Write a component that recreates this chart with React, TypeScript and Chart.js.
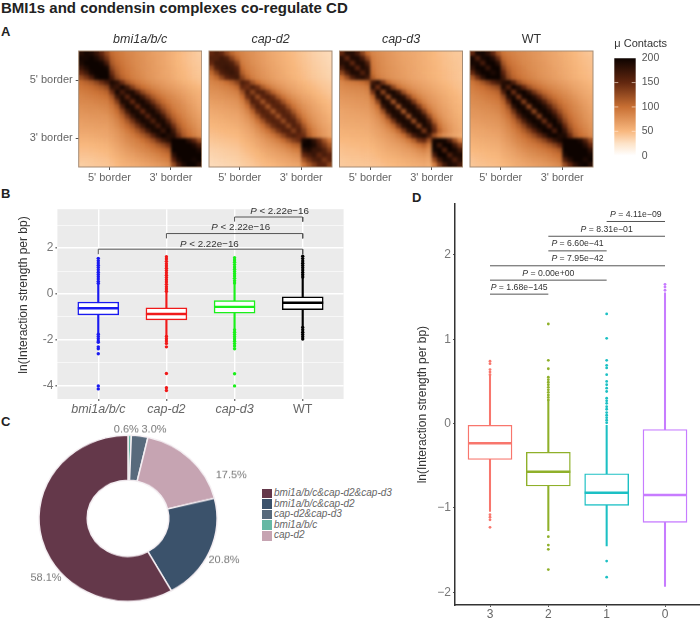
import React, { useEffect, useRef } from 'react';
import { Chart, registerables } from 'chart.js';

Chart.register(...registerables);
Chart.defaults.font.family = '"Liberation Sans", Arial, sans-serif';
Chart.defaults.animation = false as any;

const FONT = '"Liberation Sans", Arial, sans-serif';

// Panel A: upper triangles of the contact maps (row i, column i..23)
const heatTitles = ['bmi1a/b/c', 'cap-d2', 'cap-d3', 'WT'];
const heatBmi = [
  [185, 195, 190, 175, 150, 125, 102, 95, 90, 85, 82, 78, 75, 72, 68, 65, 62, 58, 54, 50, 47, 44, 41, 38],
  [195, 200, 190, 170, 140, 108, 98, 92, 87, 83, 79, 76, 72, 69, 66, 62, 58, 54, 50, 47, 44, 41, 39],
  [200, 205, 195, 165, 115, 102, 95, 89, 84, 80, 77, 73, 70, 66, 63, 59, 55, 51, 48, 45, 42, 40],
  [205, 205, 195, 128, 108, 98, 91, 86, 81, 77, 74, 70, 67, 64, 60, 56, 52, 49, 46, 43, 41],
  [205, 205, 145, 116, 102, 94, 88, 83, 78, 74, 71, 68, 64, 61, 57, 53, 50, 47, 44, 42],
  [205, 165, 128, 108, 98, 90, 85, 80, 75, 72, 68, 65, 62, 58, 54, 51, 48, 45, 43],
  [190, 180, 145, 118, 104, 94, 88, 82, 77, 73, 70, 66, 63, 59, 55, 52, 49, 46],
  [175, 195, 170, 135, 112, 100, 92, 85, 80, 75, 71, 68, 64, 60, 56, 53, 50],
  [165, 190, 190, 158, 128, 110, 98, 90, 83, 78, 74, 70, 65, 61, 57, 54],
  [155, 190, 195, 170, 138, 116, 102, 92, 85, 80, 75, 70, 65, 60, 56],
  [150, 190, 195, 175, 142, 118, 103, 92, 85, 80, 74, 68, 63, 58],
  [150, 190, 195, 175, 142, 118, 102, 90, 84, 78, 72, 66, 60],
  [150, 190, 195, 172, 138, 114, 98, 88, 82, 75, 69, 63],
  [155, 190, 195, 168, 130, 108, 95, 86, 79, 72, 66],
  [160, 192, 192, 158, 122, 103, 92, 83, 76, 69],
  [165, 195, 185, 145, 114, 98, 88, 80, 72],
  [175, 198, 170, 128, 106, 94, 85, 76],
  [188, 185, 145, 115, 100, 90, 80],
  [205, 205, 200, 180, 155, 125],
  [205, 210, 205, 190, 165],
  [205, 210, 205, 190],
  [200, 205, 200],
  [195, 205],
  [185],
];
const heatD2 = [
  [150, 160, 150, 125, 105, 92, 85, 80, 76, 72, 68, 64, 60, 57, 54, 51, 48, 45, 42, 39, 36, 34, 32, 30],
  [160, 170, 160, 130, 105, 88, 82, 77, 73, 69, 65, 61, 58, 55, 52, 49, 46, 43, 40, 37, 35, 33, 31],
  [170, 170, 160, 130, 92, 85, 79, 75, 70, 66, 63, 59, 56, 53, 50, 47, 44, 41, 38, 36, 34, 32],
  [175, 170, 155, 100, 88, 82, 77, 72, 68, 64, 61, 57, 54, 51, 48, 45, 42, 39, 37, 35, 33],
  [175, 165, 112, 94, 85, 79, 74, 70, 66, 62, 59, 55, 52, 49, 46, 43, 40, 38, 36, 34],
  [170, 130, 105, 90, 82, 76, 72, 67, 63, 60, 57, 53, 50, 47, 44, 41, 39, 37, 35],
  [160, 150, 120, 100, 88, 80, 74, 69, 65, 61, 58, 54, 51, 48, 45, 42, 40, 38],
  [145, 162, 145, 115, 97, 85, 77, 71, 66, 62, 58, 55, 51, 48, 45, 42, 40],
  [130, 160, 160, 135, 108, 92, 81, 74, 68, 63, 59, 55, 51, 48, 45, 42],
  [125, 155, 162, 145, 116, 97, 84, 76, 70, 64, 60, 55, 51, 48, 45],
  [120, 152, 160, 148, 120, 99, 86, 77, 70, 65, 60, 55, 51, 48],
  [118, 152, 160, 148, 120, 98, 85, 76, 70, 64, 59, 54, 50],
  [118, 152, 160, 146, 117, 95, 82, 74, 67, 62, 57, 52],
  [120, 155, 160, 140, 110, 90, 79, 71, 65, 60, 55],
  [125, 158, 158, 130, 102, 85, 75, 68, 62, 57],
  [130, 160, 150, 118, 94, 81, 72, 65, 60],
  [135, 160, 135, 105, 88, 77, 69, 62],
  [150, 145, 112, 92, 80, 71, 64],
  [195, 200, 180, 150, 120, 95],
  [205, 190, 165, 140, 115],
  [175, 175, 160, 135],
  [150, 165, 155],
  [140, 155],
  [130],
];
const heatD3 = [
  [150, 185, 185, 165, 130, 100, 84, 80, 76, 73, 70, 67, 64, 62, 60, 58, 55, 53, 50, 47, 45, 43, 41, 40],
  [150, 190, 190, 165, 125, 90, 82, 78, 74, 71, 68, 65, 63, 61, 58, 56, 53, 50, 48, 46, 44, 42, 41],
  [150, 190, 190, 160, 92, 84, 79, 75, 72, 69, 66, 64, 61, 59, 56, 54, 51, 49, 46, 45, 43, 41],
  [155, 190, 180, 95, 85, 80, 76, 73, 70, 67, 64, 62, 59, 57, 54, 52, 49, 47, 45, 43, 42],
  [160, 185, 100, 87, 81, 77, 74, 71, 68, 65, 62, 60, 57, 55, 52, 50, 48, 46, 44, 42],
  [170, 110, 92, 84, 79, 75, 72, 69, 66, 63, 60, 58, 55, 53, 50, 48, 46, 44, 42],
  [170, 185, 140, 105, 90, 82, 76, 72, 68, 65, 62, 59, 56, 53, 50, 48, 46, 44],
  [145, 195, 180, 130, 100, 88, 80, 74, 70, 66, 63, 59, 56, 53, 50, 47, 45],
  [130, 190, 195, 170, 122, 96, 85, 77, 71, 67, 63, 59, 56, 53, 50, 47],
  [125, 188, 195, 180, 135, 103, 88, 78, 72, 67, 63, 59, 55, 52, 49],
  [120, 185, 195, 185, 140, 105, 88, 77, 71, 66, 61, 57, 53, 50],
  [118, 185, 195, 185, 140, 105, 86, 76, 69, 64, 59, 55, 52],
  [118, 185, 195, 183, 137, 100, 83, 73, 67, 62, 57, 53],
  [120, 188, 195, 178, 128, 94, 79, 70, 64, 59, 55],
  [125, 190, 195, 165, 112, 88, 75, 67, 61, 57],
  [130, 192, 185, 140, 98, 81, 71, 64, 58],
  [140, 190, 150, 108, 86, 74, 66, 60],
  [165, 120, 92, 78, 70, 63, 57],
  [195, 205, 195, 165, 125, 90],
  [170, 205, 200, 170, 135],
  [160, 200, 195, 170],
  [160, 190, 190],
  [160, 185],
  [165],
];
const heatWt = [
  [150, 195, 195, 180, 150, 115, 96, 90, 86, 82, 80, 77, 74, 72, 68, 65, 62, 59, 56, 53, 50, 47, 44, 42],
  [160, 195, 200, 185, 145, 105, 95, 89, 85, 81, 78, 75, 72, 69, 66, 63, 60, 57, 54, 51, 48, 46, 44],
  [165, 200, 200, 180, 118, 100, 93, 88, 83, 80, 77, 74, 71, 67, 64, 61, 58, 55, 52, 49, 47, 45],
  [175, 205, 200, 135, 108, 97, 91, 86, 81, 78, 75, 72, 69, 65, 62, 59, 56, 53, 50, 48, 46],
  [190, 205, 155, 118, 102, 94, 89, 84, 80, 76, 73, 70, 67, 63, 60, 57, 54, 51, 49, 47],
  [205, 170, 128, 108, 99, 92, 87, 83, 78, 75, 72, 68, 65, 61, 58, 55, 52, 50, 48],
  [185, 190, 160, 125, 108, 98, 92, 86, 81, 77, 74, 70, 67, 63, 60, 57, 54, 51],
  [160, 200, 185, 150, 122, 106, 97, 90, 84, 80, 76, 72, 68, 64, 60, 57, 54],
  [145, 195, 200, 178, 142, 118, 104, 95, 88, 83, 78, 73, 68, 64, 60, 57],
  [140, 195, 200, 185, 155, 126, 109, 98, 90, 84, 79, 73, 68, 63, 60],
  [135, 192, 200, 188, 160, 130, 112, 99, 90, 84, 78, 72, 67, 62],
  [130, 192, 200, 188, 160, 130, 110, 97, 89, 82, 76, 70, 65],
  [130, 192, 200, 186, 155, 125, 105, 93, 85, 79, 73, 67],
  [135, 195, 200, 182, 145, 115, 99, 89, 82, 75, 70],
  [145, 195, 200, 170, 130, 106, 93, 85, 78, 72],
  [155, 198, 195, 150, 116, 99, 89, 82, 75],
  [165, 200, 175, 130, 106, 95, 86, 78],
  [190, 190, 150, 115, 100, 92, 82],
  [210, 210, 205, 190, 160, 125],
  [210, 210, 205, 185, 150],
  [210, 210, 200, 180],
  [200, 205, 195],
  [190, 205],
  [185],
];
const heatSize = 24;
const heatTickValues = [6, 18];
const heatTickLabels = ["5' border", "3' border"];
const colorbarTicks = [0, 50, 100, 150, 200];
const colorStops: [number, number[]][] = [
  [0, [255, 255, 255]],
  [25, [253, 227, 200]],
  [50, [248, 184, 127]],
  [100, [200, 111, 51]],
  [150, [98, 39, 15]],
  [200, [13, 3, 0]],
];

// Panel B
const catsB = ['bmi1a/b/c', 'cap-d2', 'cap-d3', 'WT'];
const colorsB = ['#1a1af0', '#f01a1a', '#1af01a', '#000000'];
const q1B = [-0.91, -1.13, -0.84, -0.68];
const medB = [-0.62, -0.87, -0.56, -0.38];
const q3B = [-0.35, -0.6, -0.29, -0.12];
const whiskLowB = [-1.73, -1.83, -1.54, -1.44];
const whiskHighB = [0.43, 0.07, 0.43, 0.68];
const outliersB = [
  [1.55, 1.45, 1.35, 1.25, 1.15, 1.05, 0.95, 0.85, 0.75, 0.65, 0.55, 0.47, -1.75, -1.85, -1.95, -2.05, -2.1, -2.3, -2.38, -2.6, -4.0, -4.13],
  [1.62, 1.52, 1.42, 1.32, 1.22, 1.12, 1.02, 0.92, 0.82, 0.72, 0.62, 0.52, 0.42, 0.32, 0.22, 0.12, -1.85, -1.95, -2.05, -2.15, -2.3, -3.46, -4.08, -4.2],
  [1.58, 1.48, 1.38, 1.28, 1.18, 1.08, 0.98, 0.88, 0.78, 0.68, 0.58, 0.48, -1.56, -1.66, -1.76, -1.86, -1.96, -2.06, -2.16, -2.26, -2.38, -3.47, -4.0],
  [1.64, 1.54, 1.44, 1.34, 1.24, 1.14, 1.04, 0.94, 0.84, 0.74, -1.46, -1.56, -1.66, -1.76, -1.86, -1.96],
];
const bracketsB = [
  { from: 1, to: 4, top: 1.95, tip: 1.73 },
  { from: 2, to: 4, top: 2.63, tip: 2.42 },
  { from: 3, to: 4, top: 3.35, tip: 3.15 },
];
const pLabelsB = [
  { x: 2.63, y: 2.18, rest: ' < 2.22e\u221216' },
  { x: 3.09, y: 2.89, rest: ' < 2.22e\u221216' },
  { x: 3.66, y: 3.58, rest: ' < 2.22e\u221216' },
];

// Panel C, clockwise from 12 o'clock
const donutLabels = ['bmi1a/b/c', 'cap-d2&cap-d3', 'cap-d2', 'bmi1a/b/c&cap-d2', 'bmi1a/b/c&cap-d2&cap-d3'];
const donutValues = [0.6, 3.0, 17.5, 20.8, 58.1];
const donutColors = ['#66b8a4', '#586a7c', '#c6a4b2', '#3b526b', '#64384a'];
const donutText = ['0.6%', '3.0%', '17.5%', '20.8%', '58.1%'];
const donutTextAt = [[-1.7, -94.6], [26, -94.6], [103.3, -46.4], [96, 44.7], [-82, 63.7]];
const legendOrder = [4, 3, 1, 0, 2];

// Panel D
const catsD = ['3', '2', '1', '0'];
const colorsD = ['#F8766D', '#8fb02a', '#1cc0c4', '#C77CFF'];
const q1D = [-0.425, -0.74, -0.97, -1.17];
const medD = [-0.232, -0.57, -0.82, -0.846];
const q3D = [-0.02, -0.34, -0.595, -0.07];
const whiskLowD = [-1.04, -1.27, -1.45, -1.93];
const whiskHighD = [0.58, 0.27, -0.02, 1.55];
const outliersD = [
  [0.74, 0.71, 0.64, 0.61, 0.58, -1.08, -1.11, -1.14, -1.23],
  [1.18, 0.75, 0.65, 0.55, 0.52, 0.49, 0.46, 0.43, 0.4, 0.37, 0.34, 0.31, 0.28, -1.34, -1.44, -1.49, -1.73],
  [1.3, 1.01, 0.75, 0.69, 0.66, 0.58, 0.5, 0.46, 0.42, 0.38, 0.3, 0.27, 0.24, 0.2, 0.17, 0.13, 0.1, 0.07, 0.04, 0.01, -1.63, -1.82],
  [1.65, 1.62, 1.58],
];
const linesD = [
  { from: 1, to: 2, y: 1.534 },
  { from: 1, to: 3, y: 1.7 },
  { from: 1, to: 4, y: 1.87 },
  { from: 2, to: 3, y: 2.047 },
  { from: 2, to: 4, y: 2.22 },
  { from: 3, to: 4, y: 2.395 },
];
const pLabelsD = [
  { x: 1.5, y: 1.61, rest: ' = 1.68e\u2212145' },
  { x: 2, y: 1.78, rest: ' = 0.00e+00' },
  { x: 2.5, y: 1.957, rest: ' = 7.95e\u221242' },
  { x: 2.5, y: 2.13, rest: ' = 6.60e\u221241' },
  { x: 3, y: 2.3, rest: ' = 8.31e\u221201' },
  { x: 3.5, y: 2.474, rest: ' = 4.11e\u221209' },
];

const heatColor = (v: number) => {
  const c = Math.min(200, Math.max(0, v));
  for (let i = 1; i < colorStops.length; i++) {
    const [b, cb] = colorStops[i];
    const [a, ca] = colorStops[i - 1];
    if (c <= b) {
      const t = (c - a) / (b - a);
      return `rgb(${ca.map((p, k) => Math.round(p + (cb[k] - p) * t)).join(',')})`;
    }
  }
  return 'rgb(13,3,0)';
};

// mirror an upper triangle into x/y/v cells
const toCells = (tri: number[][]) => {
  const cells: { x: number; y: number; v: number }[] = [];
  tri.forEach((row, i) =>
    row.forEach((v, k) => {
      cells.push({ x: i + k, y: i, v });
      if (k > 0) cells.push({ x: i, y: i + k, v });
    })
  );
  return cells;
};

const heatPlugin = {
  id: 'heatCells',
  beforeDatasetsDraw(chart: any) {
    const { ctx, chartArea, scales } = chart;
    const off = document.createElement('canvas');
    off.width = chart.width;
    off.height = chart.height;
    const o = off.getContext('2d')!;
    chart.data.datasets[0].data.forEach((c: any) => {
      const x0 = scales.x.getPixelForValue(c.x);
      const x1 = scales.x.getPixelForValue(c.x + 1);
      const y0 = scales.y.getPixelForValue(c.y);
      const y1 = scales.y.getPixelForValue(c.y + 1);
      o.fillStyle = heatColor(c.v);
      o.fillRect(x0, y0, x1 - x0 + 0.5, y1 - y0 + 0.5);
    });
    ctx.save();
    ctx.beginPath();
    ctx.rect(chartArea.left, chartArea.top, chartArea.width, chartArea.height);
    ctx.clip();
    ctx.drawImage(off, 0, 0, chart.width, chart.height);
    ctx.filter = 'blur(1.8px)';
    ctx.drawImage(off, 0, 0, chart.width, chart.height);
    ctx.restore();
    ctx.save();
    ctx.strokeStyle = '#a58b74';
    ctx.lineWidth = 1;
    ctx.strokeRect(chartArea.left, chartArea.top, chartArea.width, chartArea.height);
    ctx.restore();
  },
};

const heatConfig = (tri: number[][], title: string, showY: boolean, padLeft: number, padRight: number) => ({
  type: 'scatter',
  data: { datasets: [{ data: toCells(tri), pointRadius: 0 }] },
  plugins: [heatPlugin],
  options: {
    responsive: false,
    animation: false,
    layout: { padding: { left: padLeft, right: padRight } },
    plugins: {
      legend: { display: false },
      tooltip: { enabled: false },
      title: {
        display: true,
        fullSize: false,
        text: title,
        color: '#333',
        padding: { top: 2, bottom: 4 },
        font: { size: 12.5, weight: 'normal', style: title === 'WT' ? 'normal' : 'italic', lineHeight: 1.2 },
      },
    },
    scales: {
      x: {
        type: 'linear',
        min: 0,
        max: heatSize,
        afterBuildTicks: (a: any) => { a.ticks = heatTickValues.map((value) => ({ value })); },
        afterFit: (a: any) => { a.height = 21; },
        grid: { drawOnChartArea: false, tickLength: 3, tickColor: '#555' },
        border: { display: false },
        ticks: {
          padding: 1,
          maxRotation: 0,
          color: '#666',
          font: { size: 11 },
          callback: (v: number) => heatTickLabels[heatTickValues.indexOf(v)],
        },
      },
      y: {
        type: 'linear',
        display: showY,
        reverse: true,
        min: 0,
        max: heatSize,
        afterBuildTicks: (a: any) => { a.ticks = heatTickValues.map((value) => ({ value })); },
        afterFit: (a: any) => { a.width = showY ? 78.7 : 0; },
        grid: { drawOnChartArea: false, tickLength: 3, tickColor: '#555' },
        border: { display: false },
        ticks: {
          padding: 3,
          color: '#666',
          font: { size: 11 },
          callback: (v: number) => heatTickLabels[heatTickValues.indexOf(v)],
        },
      },
    },
  },
});

const colorbarPlugin = {
  id: 'colorbarMarks',
  afterDatasetsDraw(chart: any) {
    const { ctx, chartArea, scales } = chart;
    ctx.save();
    ctx.strokeStyle = 'rgba(255,235,220,0.65)';
    ctx.lineWidth = 1;
    [50, 100, 150].forEach((v) => {
      const y = scales.y.getPixelForValue(v);
      ctx.beginPath();
      ctx.moveTo(chartArea.left, y);
      ctx.lineTo(chartArea.left + 4, y);
      ctx.moveTo(chartArea.right - 4, y);
      ctx.lineTo(chartArea.right, y);
      ctx.stroke();
    });
    ctx.restore();
  },
};

const colorbarConfig = {
  type: 'bar',
  data: {
    labels: [''],
    datasets: [{
      data: [[colorbarTicks[0], colorbarTicks[colorbarTicks.length - 1]]],
      barPercentage: 1,
      categoryPercentage: 1,
      backgroundColor: (ctx: any) => {
        const { chart } = ctx;
        if (!chart.chartArea) return '#c86f33';
        const y = chart.scales.y;
        const g = chart.ctx.createLinearGradient(0, y.getPixelForValue(0), 0, y.getPixelForValue(200));
        colorStops.forEach(([v]) => g.addColorStop(v / 200, heatColor(v)));
        return g;
      },
    }],
  },
  plugins: [colorbarPlugin],
  options: {
    responsive: false,
    animation: false,
    layout: { padding: { left: 0.3, bottom: 10 } },
    plugins: {
      legend: { display: false },
      tooltip: { enabled: false },
      title: {
        display: true,
        text: '\u03BC Contacts',
        align: 'start',
        color: '#333',
        padding: { top: 0, bottom: 8 },
        font: { size: 11, weight: 'normal', lineHeight: 1.2 },
      },
    },
    scales: {
      x: { display: false },
      y: {
        position: 'right',
        min: 0,
        max: 200,
        afterBuildTicks: (a: any) => { a.ticks = colorbarTicks.map((value) => ({ value })); },
        afterFit: (a: any) => { a.width = 40.3; },
        grid: { display: false, drawTicks: false },
        border: { display: false },
        ticks: { padding: 6, color: '#555', font: { size: 10.5 } },
      },
    },
  },
};

// P value text with an italic P, centred on a data position
const pTextPlugin = (labels: { x: number; y: number; rest: string }[], size: number) => ({
  id: 'pText',
  afterDatasetsDraw(chart: any) {
    const { ctx, scales } = chart;
    ctx.save();
    ctx.fillStyle = '#333';
    ctx.textBaseline = 'middle';
    ctx.textAlign = 'left';
    labels.forEach((l) => {
      ctx.font = `italic ${size}px ${FONT}`;
      const w1 = ctx.measureText('P').width;
      ctx.font = `${size}px ${FONT}`;
      const w2 = ctx.measureText(l.rest).width;
      const x = scales.x.getPixelForValue(l.x) - (w1 + w2) / 2;
      const y = scales.y.getPixelForValue(l.y);
      ctx.font = `italic ${size}px ${FONT}`;
      ctx.fillText('P', x, y);
      ctx.font = `${size}px ${FONT}`;
      ctx.fillText(l.rest, x + w1, y);
    });
    ctx.restore();
  },
});

const boxDatasets = (
  n: number,
  q1: number[], med: number[], q3: number[], lo: number[], hi: number[], out: number[][],
  colors: string[], boxPx: number, borderPx: number, medianPx: number, whiskPx: number, outR: number
): any[] => {
  const xs = Array.from({ length: n }, (_, i) => i + 1);
  return [
    {
      type: 'scatter',
      order: 1,
      data: xs.map((x, i) => ({ x, y: med[i] })),
      pointStyle: 'line',
      pointRadius: boxPx / 2,
      pointBorderWidth: medianPx,
      pointBorderColor: colors,
      pointBackgroundColor: colors,
    },
    {
      type: 'bar',
      order: 2,
      grouped: false,
      data: xs.map((x, i) => ({ x, y: [q1[i], q3[i]] })),
      backgroundColor: '#ffffff',
      borderColor: colors,
      borderWidth: borderPx,
      borderSkipped: false,
      barThickness: boxPx,
    },
    {
      type: 'bar',
      order: 3,
      grouped: false,
      data: xs.map((x, i) => ({ x, y: [lo[i], hi[i]] })),
      backgroundColor: colors,
      borderWidth: 0,
      barThickness: whiskPx,
    },
    ...out.map((vals, i) => ({
      type: 'scatter',
      order: 4,
      data: vals.map((y) => ({ x: xs[i], y })),
      pointRadius: outR,
      pointBorderWidth: 0,
      pointBackgroundColor: colors[i],
    })),
  ];
};

const lineDataset = (points: { x: number; y: number }[], color: string, width: number) => ({
  type: 'scatter',
  order: 0,
  showLine: true,
  data: points,
  borderColor: color,
  borderWidth: width,
  pointRadius: 0,
  tension: 0,
});

const panelBgPlugin = {
  id: 'panelBg',
  beforeDraw(chart: any) {
    const { ctx, chartArea } = chart;
    ctx.save();
    ctx.fillStyle = '#EBEBEB';
    ctx.fillRect(chartArea.left, chartArea.top, chartArea.width, chartArea.height);
    ctx.restore();
  },
};

const yCaptionB = {
  id: 'yCaptionB',
  afterDraw(chart: any) {
    const { ctx } = chart;
    ctx.save();
    ctx.translate(24, 95);
    ctx.rotate(-Math.PI / 2);
    ctx.fillStyle = '#333';
    ctx.font = `12px ${FONT}`;
    ctx.textAlign = 'center';
    ctx.textBaseline = 'middle';
    ctx.fillText('ln(Interaction strength per bp)', 0, 0);
    ctx.restore();
  },
};

const configB = {
  type: 'bar',
  data: {
    datasets: [
      ...boxDatasets(4, q1B, medB, q3B, whiskLowB, whiskHighB, outliersB, colorsB, 41, 1.5, 2.4, 1.5, 1.7),
      ...bracketsB.map((b) =>
        lineDataset(
          [{ x: b.from, y: b.tip }, { x: b.from, y: b.top }, { x: b.to, y: b.top }, { x: b.to, y: b.tip }],
          '#555',
          1
        )
      ),
    ],
  },
  plugins: [panelBgPlugin, pTextPlugin(pLabelsB, 9.8), yCaptionB],
  options: {
    responsive: false,
    animation: false,
    layout: { autoPadding: false, padding: { top: 8, right: 2.4 } },
    plugins: { legend: { display: false }, tooltip: { enabled: false } },
    scales: {
      x: {
        type: 'linear',
        min: 0.4,
        max: 4.6,
        offset: false,
        afterBuildTicks: (a: any) => { a.ticks = catsB.map((_, i) => ({ value: i + 1 })); },
        afterFit: (a: any) => { a.height = 19; },
        grid: { offset: false, color: '#ffffff', lineWidth: 1.4, tickLength: 2, tickColor: '#777' },
        border: { display: false },
        ticks: {
          padding: 1,
          maxRotation: 0,
          autoSkip: false,
          color: '#666',
          font: (ctx: any) => ({ size: 12.5, style: ctx.index < 3 ? 'italic' : 'normal' }),
          callback: (v: number) => catsB[v - 1],
        },
      },
      y: {
        type: 'linear',
        min: -4.57,
        max: 3.69,
        afterBuildTicks: (a: any) => { a.ticks = [-4, -3, -2, -1, 0, 1, 2, 3].map((value) => ({ value })); },
        afterFit: (a: any) => { a.width = 57.4; },
        grid: {
          color: '#ffffff',
          lineWidth: (ctx: any) => (ctx.tick && ctx.tick.value % 2 === 0 ? 1.4 : 0.6),
          tickLength: 2,
          tickColor: (ctx: any) => (ctx.tick && ctx.tick.value % 2 === 0 ? '#777' : 'rgba(0,0,0,0)'),
        },
        border: { display: false },
        ticks: {
          padding: 2,
          autoSkip: false,
          color: '#777',
          font: { size: 12 },
          callback: (v: number) => (v % 2 === 0 ? String(v) : ''),
        },
      },
    },
  },
};

const donutTextPlugin = {
  id: 'donutText',
  afterDatasetsDraw(chart: any) {
    const { ctx } = chart;
    const arc = chart.getDatasetMeta(0).data[0];
    ctx.save();
    ctx.fillStyle = '#777';
    ctx.font = `11px ${FONT}`;
    ctx.textAlign = 'center';
    ctx.textBaseline = 'middle';
    donutText.forEach((t, i) => ctx.fillText(t, arc.x + donutTextAt[i][0], arc.y + donutTextAt[i][1]));
    ctx.restore();
  },
};

const configC = {
  type: 'doughnut',
  data: {
    labels: donutLabels,
    datasets: [{
      data: donutValues,
      backgroundColor: donutColors,
      borderColor: '#f4eef2',
      borderWidth: 1.5,
    }],
  },
  plugins: [donutTextPlugin],
  options: {
    responsive: false,
    animation: false,
    radius: 89,
    cutout: 45.5,
    layout: { padding: { right: 4 } },
    plugins: { legend: { display: false }, tooltip: { enabled: false } },
  },
};

const configD = {
  type: 'bar',
  data: {
    datasets: [
      ...boxDatasets(4, q1D, medD, q3D, whiskLowD, whiskHighD, outliersD, colorsD, 44, 1.4, 2.5, 1.4, 1.4),
      ...linesD.map((l) => lineDataset([{ x: l.from, y: l.y }, { x: l.to, y: l.y }], '#555', 1)),
    ],
  },
  plugins: [pTextPlugin(pLabelsD, 8.7)],
  options: {
    responsive: false,
    animation: false,
    layout: { autoPadding: false, padding: { top: 7 } },
    plugins: { legend: { display: false }, tooltip: { enabled: false } },
    scales: {
      x: {
        type: 'linear',
        min: 0.4,
        max: 4.6,
        offset: false,
        afterBuildTicks: (a: any) => { a.ticks = catsD.map((_, i) => ({ value: i + 1 })); },
        afterFit: (a: any) => { a.height = 16; },
        grid: { offset: false, drawOnChartArea: false, tickLength: 2, tickColor: '#555' },
        border: { display: true, color: '#333', width: 1.5 },
        ticks: {
          padding: 0,
          maxRotation: 0,
          autoSkip: false,
          color: '#666',
          font: { size: 12 },
          callback: (v: number) => catsD[v - 1],
        },
      },
      y: {
        type: 'linear',
        min: -2.15,
        max: 2.6,
        afterBuildTicks: (a: any) => { a.ticks = [-2, -1, 0, 1, 2].map((value) => ({ value })); },
        afterFit: (a: any) => { a.width = 45; },
        title: {
          display: true,
          text: 'ln(Interaction strength per bp)',
          color: '#333',
          padding: { top: 5.8, bottom: 0 },
          font: { size: 12, lineHeight: 1.2 },
        },
        grid: { drawOnChartArea: false, tickLength: 2, tickColor: '#555' },
        border: { display: true, color: '#333', width: 1.5 },
        ticks: {
          padding: 2,
          color: '#777',
          font: { size: 12 },
          callback: (v: number) => (v < 0 ? `\u2212${-v}` : String(v)),
        },
      },
    },
  },
};

const ChartBox: React.FC<{ left: number; top: number; width: number; height: number; config: any; style?: React.CSSProperties }> = ({
  left, top, width, height, config, style,
}) => {
  const canvasRef = useRef<HTMLCanvasElement>(null);

  useEffect(() => {
    if (!canvasRef.current) return;
    const chart = new Chart(canvasRef.current, config);
    return () => chart.destroy();
  }, [config]);

  return (
    <canvas
      ref={canvasRef}
      width={width}
      height={height}
      style={{ position: 'absolute', left, top, width, height, ...style }}
    />
  );
};

const Text: React.FC<{ left: number; top: number; size: number; bold?: boolean; children: React.ReactNode }> = ({
  left, top, size, bold, children,
}) => (
  <div
    style={{
      position: 'absolute', left, top, fontFamily: FONT, fontSize: size, fontWeight: bold ? 'bold' : 'normal',
      lineHeight: 1, whiteSpace: 'nowrap', color: '#222',
    }}
  >
    {children}
  </div>
);

const heatA = heatConfig(heatBmi, heatTitles[0], true, 0, 0.3);
const heatB = heatConfig(heatD2, heatTitles[1], false, 1, 2);
const heatC = heatConfig(heatD3, heatTitles[2], false, 1.5, 1.5);
const heatE = heatConfig(heatWt, heatTitles[3], false, 1, 2);

export default function App() {
  return (
    <div style={{ position: 'absolute', left: 0, top: 0, width: 700, height: 621, overflow: 'hidden', background: '#fff', filter: 'blur(0.3px)' }}>
      <Text left={1} top={0} size={15} bold>BMI1s and condensin complexes co-regulate CD</Text>
      <Text left={1} top={25} size={13} bold>A</Text>
      <Text left={1} top={187} size={13} bold>B</Text>
      <Text left={1} top={415} size={13} bold>C</Text>
      <Text left={412} top={191} size={13} bold>D</Text>

      <ChartBox left={0} top={30} width={202} height={158} config={heatA} />
      <ChartBox left={208} top={30} width={126} height={158} config={heatB} />
      <ChartBox left={338} top={30} width={126} height={158} config={heatC} />
      <ChartBox left={469} top={30} width={126} height={158} config={heatE} />
      <ChartBox left={614} top={37} width={62} height={131} config={colorbarConfig} />

      <ChartBox left={0} top={200} width={346} height={218} config={configB} />

      <ChartBox
        left={0}
        top={425}
        width={260}
        height={200}
        config={configC}
        style={{ transform: 'scaleY(0.933)', transformOrigin: 'top left' }}
      />
      {legendOrder.map((idx, row) => (
        <div key={idx}>
          <div
            style={{
              position: 'absolute', left: 262, top: 488.5 + row * 10.6, width: 9.5, height: 9.8,
              background: donutColors[idx],
            }}
          />
          <div
            style={{
              position: 'absolute', left: 274, top: 488 + row * 10.6, fontFamily: FONT, fontSize: 10,
              fontStyle: 'italic', lineHeight: '10.6px', whiteSpace: 'nowrap', color: '#666',
            }}
          >
            {donutLabels[idx]}
          </div>
        </div>
      ))}

      <ChartBox left={410} top={195} width={290} height={426} config={configD} />
    </div>
  );
}
